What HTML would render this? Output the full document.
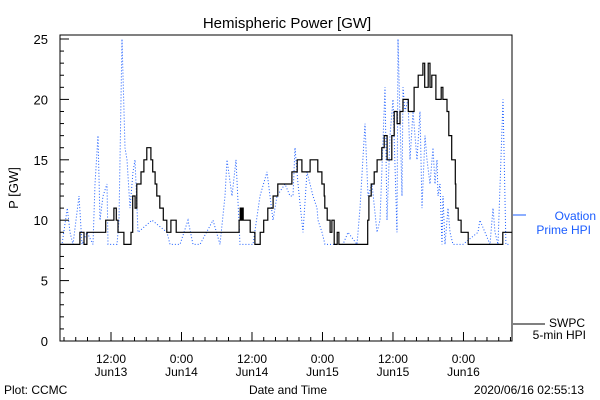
<!DOCTYPE html>
<html><head><meta charset="utf-8">
<style>
html,body{margin:0;padding:0;background:#fff;}
svg{display:block;font-family:"Liberation Sans",sans-serif;}
</style></head>
<body>
<svg id="chart" width="600" height="400" viewBox="0 0 600 400" xmlns="http://www.w3.org/2000/svg">
<rect width="600" height="400" fill="#fff"/>
<text x="287" y="28" font-size="15" text-anchor="middle" fill="#000">Hemispheric Power [GW]</text>
<text transform="translate(18,188) rotate(-90)" font-size="13" text-anchor="middle" fill="#000">P [GW]</text>
<text x="288" y="394" font-size="12" text-anchor="middle" fill="#000">Date and Time</text>
<text x="4" y="394" font-size="12" fill="#000">Plot: CCMC</text>
<text x="584" y="394" font-size="12" text-anchor="end" fill="#000">2020/06/16 02:55:13</text>
<g id="axes"></g>
<g id="series"></g>
<g>
<line x1="513" y1="215" x2="526" y2="215" stroke="#1a5cff" stroke-width="1"/>
<text x="596" y="220" font-size="12" text-anchor="end" fill="#1a5cff">Ovation</text>
<text x="591" y="234" font-size="12" text-anchor="end" fill="#1a5cff">Prime HPI</text>
<line x1="513" y1="324" x2="545" y2="324" stroke="#000" stroke-width="1"/>
<text x="585" y="327" font-size="12" text-anchor="end" fill="#000">SWPC</text>
<text x="586" y="339" font-size="12" text-anchor="end" fill="#000">5-min HPI</text>
</g>
</svg>
<script>
// hours since 2020-06-13 00:00
const swpcHours = [3.3,6.7,7.4,7.9,11.1,12.5,12.9,13.2,14.2,14.7,15.4,15.7,16.1,16.4,17.1,17.6,18.1,18.8,19.1,19.5,19.8,20.3,20.9,21.5,22.2,23.1,33.8,34.0,34.1,34.3,34.5,35.7,36.5,37.4,38.0,38.7,39.6,40.4,42.8,43.7,44.5,45.9,47.2,47.9,48.3,48.4,48.8,49.3,49.6,50.0,50.5,50.8,55.7,55.9,56.3,56.8,57.3,58.1,58.5,59.0,59.8,60.2,60.7,61.2,61.7,62.6,63.6,64.3,65.1,65.4,66.0,66.3,66.6,67.3,68.2,68.5,69.2,69.5,70.0,70.6,70.7,71.1,71.6,72.8,78.7,80.26];
const swpcValues = [8,9,8,9,10,11,10,9,8,8,9,12,11,13,14,15,16,15,14,13,12,11,10,9,10,9,10,11,10,11,10,9,8,9,10,11,12,13,14,15,14,15,14,13,12,11,10,9,10,8,9,8,10,12,13,14,15,16,17,15,17,19,18,19,20,19,21,22,23,21,23,21,22,20,21,20,19,17,15,13,11,10,9,8,9,9];
const ovationHours = [3.4,3.66,4.56,5.02,5.53,6.55,7.06,7.91,8.94,9.28,9.79,10.13,10.64,11.32,11.49,13.02,13.36,13.87,14.38,14.72,15.23,15.74,16.09,16.6,18.98,21.53,22.04,23.74,25.11,25.96,27.15,29.36,30.55,31.4,31.74,32.6,33.28,33.96,36.17,37.36,38.55,39.57,40.26,41.62,42.47,42.98,43.32,43.83,44.68,45.36,46.38,47.06,47.23,47.91,48.43,51.49,52.34,53.87,54.38,55.23,55.74,56.43,57.28,57.79,58.64,58.98,59.49,60.0,60.68,60.85,61.53,61.7,62.04,62.55,62.89,63.4,64.09,64.6,64.94,65.45,65.79,66.3,66.81,67.15,67.49,67.66,68.0,68.34,68.51,68.85,69.36,69.7,70.21,71.91,74.47,74.8,75.66,76.51,77.02,77.36,77.87,78.72,79.23,79.91];
const ovationValues = [8,8,11,9,8,12,8,9,8,13,17,10,12,13,8,8,10,25,16,15,11,14,15,9,10,9,8,8,10,8,8,10,8,12,15,12,15,8,8,12,14,10,12,13,12,12,16,13,9,14,12,11,10,9,8,8,9,8,11,18,12,13,9,10,21,10,17,20,9,25,12,21,19,20,15,19,15,19,11,17,15,13,16,13,15,12,13,8,12,8,11,9,8,8,9,10,9,8,11,9,8,20,8,8];
const yTicks = [0,5,10,15,20,25];
const xTickHours = [12,24,36,48,60,72];
const xTickTime = ["12:00","0:00","12:00","0:00","12:00","0:00"];
const xTickDay = ["Jun13","Jun14","Jun14","Jun15","Jun15","Jun16"];

const X0=60,X1=512,Y0=341,YTOP=35;
const H0=3.32,H1=80.26;
const xs=h=>X0+(h-H0)*(X1-X0)/(H1-H0);
const ys=v=>Y0-v*(341-39)/25;
const NS="http://www.w3.org/2000/svg";
function mk(tag,attrs,parent){const e=document.createElementNS(NS,tag);for(const k in attrs)e.setAttribute(k,attrs[k]);parent.appendChild(e);return e;}
const axes=document.getElementById('axes');
const frame=mk('rect',{x:X0,y:YTOP,width:X1-X0,height:Y0-YTOP,fill:'none',stroke:'#000','stroke-width':1},axes);


for(let v=0;v<=25;v++){
  const major=v%5===0;
  const t=mk('line',{x1:X0,x2:X0+(major?9:4),y1:ys(v),y2:ys(v),stroke:'#000'},axes);
  
  
}
yTicks.forEach(v=>{
  const t=mk('text',{x:X0-12,y:ys(v)+5,'font-size':13,'text-anchor':'end',fill:'#000'},axes);
  t.textContent=v;
  
  
});
for(let h=4;h<=80;h+=2){
  const major=h%12===0;
  const t=mk('line',{x1:xs(h),x2:xs(h),y1:Y0,y2:Y0-(major?9:4),stroke:'#000'},axes);
  
  
}
xTickHours.forEach((h,i)=>{
  const a=mk('text',{x:xs(h),y:363,'font-size':12,'text-anchor':'middle',fill:'#000'},axes);
  a.textContent=xTickTime[i];
  
  
  const b=mk('text',{x:xs(h),y:376,'font-size':12,'text-anchor':'middle',fill:'#000'},axes);
  b.textContent=xTickDay[i];
  
  
});
function stepPath(hs,vs){
  let d='M'+xs(hs[0]).toFixed(1)+','+ys(vs[0]).toFixed(1);
  for(let i=1;i<hs.length;i++){
    d+=' H'+xs(hs[i]).toFixed(1)+' V'+ys(vs[i]).toFixed(1);
  }
  return d;
}
function linePath(hs,vs){
  return hs.map((h,i)=>(i?'L':'M')+xs(h).toFixed(1)+','+ys(vs[i]).toFixed(1)).join(' ');
}
const series=document.getElementById('series');
const ov=mk('path',{d:linePath(ovationHours,ovationValues),fill:'none',stroke:'#1a5cff','stroke-width':1,'stroke-dasharray':'1 2'},series);


const sw=mk('path',{d:stepPath(swpcHours,swpcValues),fill:'none',stroke:'#000','stroke-width':1.2},series);


</script>
</body></html>
